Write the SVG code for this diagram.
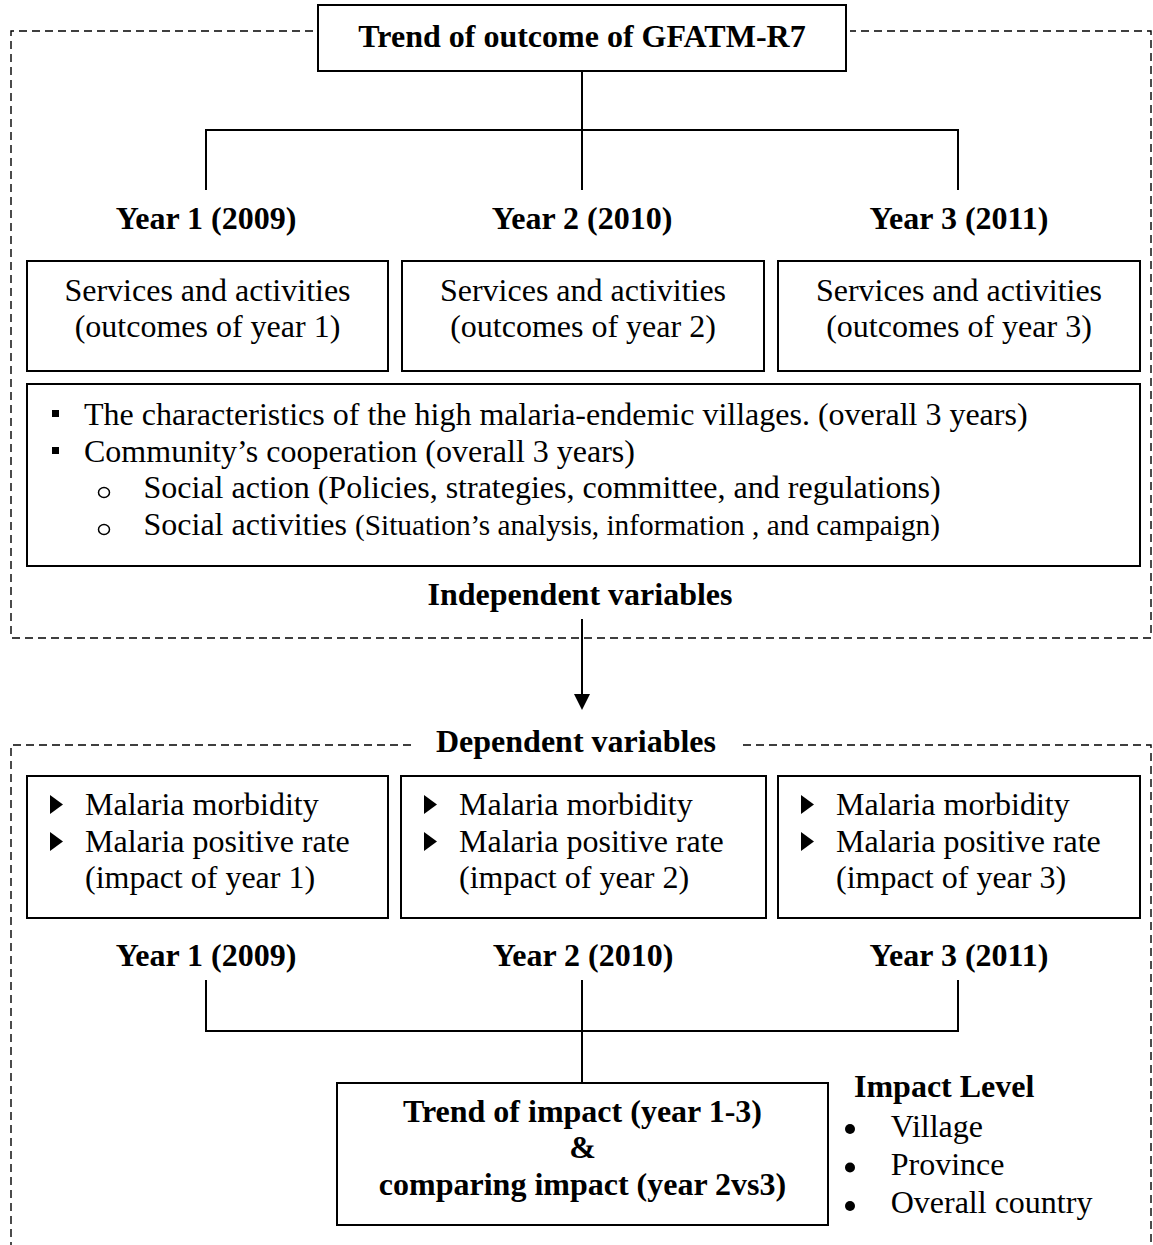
<svg xmlns="http://www.w3.org/2000/svg" width="1153" height="1245" viewBox="0 0 1153 1245">
<style>
  .t { font-family: "Liberation Serif", "Times New Roman", serif; font-size: 32px; fill: #000; }
  .b { font-weight: bold; }
  .s { font-size: 29.3px; }
  .m { text-anchor: middle; }
  .box { fill: #fff; stroke: #000; stroke-width: 2; }
  .dash { fill: none; stroke: #000; stroke-width: 1.4; stroke-dasharray: 8 5; }
  .conn { fill: none; stroke: #000; stroke-width: 2; }
  .blt { fill: #000; }
  .ring { fill: none; stroke: #000; stroke-width: 1.5; }
</style>
<defs>
  <marker id="arrow" markerUnits="userSpaceOnUse" markerWidth="18" markerHeight="16" refX="2" refY="8" orient="auto">
    <path d="M0,0 L16,8 L0,16 Z" fill="#000"/>
  </marker>
</defs>
<rect width="1153" height="1245" fill="#fff"/>

<g id="frames">
  <path class="dash" d="M313,31 H11 V638 H1151 V31 H850"/>
  <path class="dash" d="M411,745 H11 V1245 M743,745 H1151 V1245"/>
</g>

<g id="connectors">
  <path class="conn" d="M582,71 V130 M206,190 V130 H958 V190 M582,130 V190"/>
  <path class="conn" d="M582,619 V696" marker-end="url(#arrow)"/>
  <path class="conn" d="M206,980 V1031 H958 V980 M582,980 V1083"/>
</g>

<g id="title">
  <rect class="box" x="318" y="5" width="528" height="66"/>
  <text class="t b m" x="582" y="47">Trend of outcome of GFATM-R7</text>
</g>

<g id="year1-top"><text class="t b m" x="206" y="229">Year 1 (2009)</text></g>
<g id="year2-top"><text class="t b m" x="582" y="229">Year 2 (2010)</text></g>
<g id="year3-top"><text class="t b m" x="959" y="229">Year 3 (2011)</text></g>

<g id="outcome1">
  <rect class="box" x="27" y="261" width="361" height="110"/>
  <text class="t m" x="207.5" y="301">Services and activities</text>
  <text class="t m" x="207.5" y="337">(outcomes of year 1)</text>
</g>
<g id="outcome2">
  <rect class="box" x="402" y="261" width="362" height="110"/>
  <text class="t m" x="583" y="301">Services and activities</text>
  <text class="t m" x="583" y="337">(outcomes of year 2)</text>
</g>
<g id="outcome3">
  <rect class="box" x="778" y="261" width="362" height="110"/>
  <text class="t m" x="959" y="301">Services and activities</text>
  <text class="t m" x="959" y="337">(outcomes of year 3)</text>
</g>

<g id="characteristics">
  <rect class="box" x="27" y="384" width="1113" height="182"/>
  <rect class="blt" x="52" y="410" width="7" height="7"/>
  <text class="t" x="84" y="425">The characteristics of the high malaria-endemic villages. (overall 3 years)</text>
  <rect class="blt" x="52" y="447" width="7" height="7"/>
  <text class="t" x="84" y="461.7">Community’s cooperation (overall 3 years)</text>
  <ellipse class="ring" cx="104" cy="492.5" rx="5.5" ry="5"/>
  <text class="t" x="143.5" y="498.3">Social action (Policies, strategies, committee, and regulations)</text>
  <ellipse class="ring" cx="104" cy="529.5" rx="5.5" ry="5"/>
  <text class="t" x="143.5" y="535">Social activities <tspan class="s">(Situation’s analysis, information , and campaign)</tspan></text>
</g>

<g id="independent-label"><text class="t b m" x="580" y="605">Independent variables</text></g>
<g id="dependent-label"><text class="t b m" x="576" y="752">Dependent variables</text></g>

<g id="impact1">
  <rect class="box" x="27" y="776" width="361" height="142"/>
  <polygon class="blt" points="50,795 63,804.5 50,814"/>
  <text class="t" x="85" y="815">Malaria morbidity</text>
  <polygon class="blt" points="50,832 63,841.5 50,851"/>
  <text class="t" x="85" y="851.7">Malaria positive rate</text>
  <text class="t" x="85" y="888.3">(impact of year 1)</text>
</g>
<g id="impact2">
  <rect class="box" x="401" y="776" width="365" height="142"/>
  <polygon class="blt" points="424,795 437,804.5 424,814"/>
  <text class="t" x="459" y="815">Malaria morbidity</text>
  <polygon class="blt" points="424,832 437,841.5 424,851"/>
  <text class="t" x="459" y="851.7">Malaria positive rate</text>
  <text class="t" x="459" y="888.3">(impact of year 2)</text>
</g>
<g id="impact3">
  <rect class="box" x="778" y="776" width="362" height="142"/>
  <polygon class="blt" points="801,795 814,804.5 801,814"/>
  <text class="t" x="836" y="815">Malaria morbidity</text>
  <polygon class="blt" points="801,832 814,841.5 801,851"/>
  <text class="t" x="836" y="851.7">Malaria positive rate</text>
  <text class="t" x="836" y="888.3">(impact of year 3)</text>
</g>

<g id="year1-bottom"><text class="t b m" x="206" y="966">Year 1 (2009)</text></g>
<g id="year2-bottom"><text class="t b m" x="583" y="966">Year 2 (2010)</text></g>
<g id="year3-bottom"><text class="t b m" x="959" y="966">Year 3 (2011)</text></g>

<g id="trend-impact">
  <rect class="box" x="337" y="1083" width="491" height="142"/>
  <text class="t b m" x="582.5" y="1121.7">Trend of impact (year 1-3)</text>
  <text class="t b m" x="582.5" y="1158">&amp;</text>
  <text class="t b m" x="582.5" y="1195">comparing impact (year 2vs3)</text>
</g>

<g id="impact-level">
  <text class="t b" x="854" y="1096.7">Impact Level</text>
  <circle class="blt" cx="850" cy="1129" r="5"/>
  <text class="t" x="890.7" y="1136.7">Village</text>
  <circle class="blt" cx="850" cy="1167.5" r="5"/>
  <text class="t" x="890.7" y="1175">Province</text>
  <circle class="blt" cx="850" cy="1206" r="5"/>
  <text class="t" x="890.7" y="1213">Overall country</text>
</g>
</svg>
